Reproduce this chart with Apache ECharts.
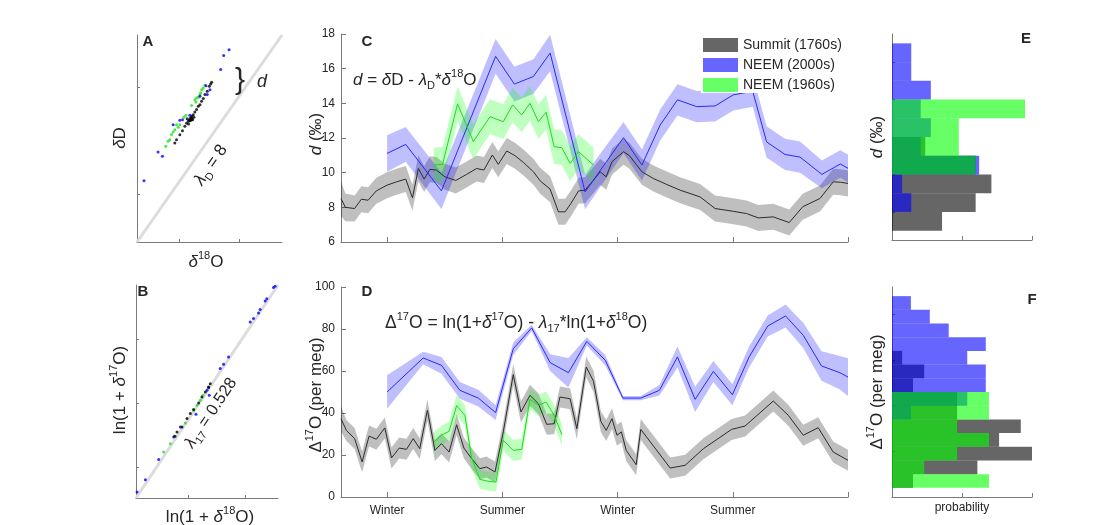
<!DOCTYPE html>
<html><head><meta charset="utf-8">
<script src="https://cdn.jsdelivr.net/npm/echarts@6/dist/echarts.min.js"></script>
<style>html,body{margin:0;padding:0;background:#fff}#c{width:1110px;height:525px}</style>
</head><body><div id="c"></div>
<script>
const FONT = "'Liberation Sans', Arial, Helvetica, sans-serif";
const AX = '#7a7a7a', TXT = '#262626';

// ---------- Panel A (dD vs d18O) ----------
const aLine = [[-47, -344], [-23, -152]];
const aBlue = [[-31.76,-165.6],[-32.65,-170.9],[-33.15,-184.1],[-35.59,-199.0],[-34.92,-202.7],[-35.37,-207.3],[-36.58,-208.9],[-38.25,-226.5],[-39.91,-231.1],[-41.02,-235.2],[-43.51,-260.5],[-42.79,-264.5],[-45.84,-287.1],[-39.47,-230.5]];
const aGreen = [[-42.24,-255.3],[-41.85,-250.6],[-41.57,-249.1],[-41.29,-244.4],[-41.02,-242.0],[-40.74,-239.8],[-40.46,-235.2],[-40.19,-237.6],[-39.91,-235.2],[-39.24,-228.4],[-38.91,-226.5],[-37.97,-217.5],[-37.42,-212.0],[-37.25,-214.1],[-37.14,-210.4],[-36.86,-209.8],[-36.6,-207.5],[-36.47,-205.8],[-36.31,-202.7],[-36.03,-201.2],[-35.75,-198.7]];
const aBlack = [[-40.74,-252.2],[-40.46,-249.1],[-39.91,-244.5],[-39.47,-240.8],[-39.08,-236.7],[-38.80,-233.9],[-38.52,-232.1],[-38.36,-230.5],[-38.14,-229.0],[-37.97,-227.4],[-37.80,-230.5],[-37.69,-225.9],[-37.42,-223.4],[-37.14,-221.2],[-36.86,-218.2],[-36.58,-216.6],[-36.31,-213.5],[-36.03,-211.0],[-35.75,-207.3],[-35.37,-204.2],[-35.03,-199.6],[-34.81,-197.4],[-34.65,-195.9],[-38.69,-229.6],[-38.25,-231.5],[-37.58,-228.4],[-38.47,-234.5],[-38.0,-228.8],[-37.9,-230.0],[-38.1,-231.0]];
const aTicksX = [-40, -30], aTicksY = [-300, -200];

// ---------- Panel B (ln(1+d17O) vs ln(1+d18O)) ----------
const bLine = [[-49.3, -25.9], [-24.2, -12.65]];
const bBlue = [[-49.11,-25.53],[-47.64,-24.76],[-45.29,-23.51],[-42.64,-22.10],[-41.47,-21.48],[-38.70,-20.69],[-36.35,-19.51],[-36.76,-19.20],[-36.47,-19.04],[-34.41,-17.85],[-33.82,-17.58],[-32.94,-17.13],[-29.12,-14.95],[-28.53,-14.74],[-27.65,-14.39],[-27.36,-14.18],[-26.47,-13.64],[-26.18,-13.50],[-25.0,-12.81],[-24.71,-12.73]];
const bGreen = [[-44.41,-23.04],[-43.23,-22.52],[-42.35,-22.06],[-40.58,-21.23],[-39.11,-20.45],[-38.52,-20.13],[-37.93,-19.82],[-37.47,-19.51]];
const bBlack = [[-42.46,-22.06],[-42.05,-21.79],[-41.17,-21.48],[-40.29,-20.96],[-39.70,-20.65],[-39.11,-20.40],[-38.23,-19.99],[-37.64,-19.62],[-37.05,-19.31],[-36.47,-19.00],[-36.17,-18.79]];
const bTicksX = [-40, -30], bTicksY = [-24, -20, -16];

// ---------- Panels C / D : [month, value, half band width] ----------
const monthTicks = [0, 6, 12, 18, 24];
const seasonTicks = [0, 6, 12, 18];
const seasonLabels = ['Winter', 'Summer', 'Winter', 'Summer'];

const summitC = [[-2.4,8.5,1.0],[-2.17,8.0,0.8],[-1.69,7.93,0.75],[-1.34,8.47,0.75],[-0.99,8.41,0.75],[-0.56,8.95,0.75],[0,9.28,0.75],[0.49,9.47,0.75],[0.97,9.63,0.75],[1.32,8.55,0.75],[1.63,10.24,0.75],[1.93,9.63,0.75],[2.23,10.19,0.75],[2.57,10.15,0.75],[3.01,9.76,0.75],[3.58,9.55,0.75],[4.14,9.9,0.75],[4.66,10.24,0.75],[5.04,10.15,0.75],[5.48,11.02,0.75],[5.79,10.48,0.75],[6.23,11.25,0.75],[6.66,10.98,0.75],[7.10,10.59,0.75],[7.62,10.05,0.75],[7.97,9.53,0.75],[8.49,9.05,0.75],[8.92,7.74,0.75],[9.27,7.74,0.75],[9.57,8.22,0.75],[9.97,8.95,0.75],[10.31,8.99,0.75],[10.75,9.57,0.75],[11.1,10.05,0.75],[11.41,9.76,0.75],[11.71,10.63,0.75],[12.31,11.21,0.75],[12.62,10.98,0.75],[13.27,10.05,0.75],[13.87,9.66,0.75],[14.56,9.32,0.75],[15.26,8.99,0.75],[16.30,8.60,0.75],[17.08,7.93,0.75],[18.03,7.77,0.75],[18.72,7.64,0.75],[19.33,7.39,0.75],[20.11,7.45,0.75],[20.94,7.12,0.75],[21.64,8.03,0.75],[22.54,8.51,0.75],[23.23,9.47,0.75],[23.6,9.45,0.75],[24.0,9.38,0.75]];
const neem2000C = [[0,11.11,1.05],[0.97,11.63,1.0],[2.83,8.95,1.05],[5.65,16.71,1.0],[6.63,15.11,1.0],[7.62,15.55,1.0],[8.49,16.9,1.05],[10.31,8.89,1.0],[12.31,12.02,0.9],[13.27,10.44,0.9],[14.22,12.75,0.9],[15.12,14.2,0.9],[16.12,13.81,0.9],[17.08,13.85,0.9],[18.03,14.49,0.9],[19.04,14.7,0.9],[19.76,11.78,0.9],[20.72,11.05,0.9],[21.5,10.9,0.9],[22.64,9.9,0.8],[23.6,10.5,0.8],[24.0,10.25,0.8]];
const neem1960C = [[2.43,10.44,1.0],[2.89,10.48,1.0],[3.67,13.97,1.0],[4.49,11.79,1.0],[5.36,13.23,1.0],[6.05,12.94,1.0],[6.54,13.91,1.0],[7.01,13.33,1.0],[7.44,14.0,1.0],[7.88,12.94,1.0],[8.28,13.49,1.0],[8.70,11.5,1.0],[9.10,11.44,1.0],[9.53,10.53,1.0],[9.97,11.21,1.0],[10.75,10.44,1.0]];

const summitD = [[-2.4,37.3,6],[-2.12,31.7,5],[-1.69,27.8,5],[-1.3,16.7,5],[-0.94,29.0,5],[-0.56,27.5,5],[-0.12,32.9,5],[0.23,18.6,5],[0.63,23.3,5],[1.01,22.7,5],[1.36,27.8,5],[1.70,23.0,5],[2.10,41.3,5],[2.49,22.2,5],[2.83,25.4,5],[3.23,21.4,5],[3.62,34.4,5],[4.0,23.3,5],[4.4,18.3,5],[4.83,13.5,5],[5.18,14.3,5],[5.62,11.9,5],[6.05,31.0,5],[6.57,58.3,5],[6.97,40.5,5],[7.44,48.4,5],[7.88,44.4,5],[8.31,34.6,5],[8.70,34.9,5],[9.0,47.6,5],[9.53,46.8,5],[9.88,32.5,5],[10.37,61.9,5],[10.75,55.1,5],[11.13,36,5],[11.41,31.7,5],[11.71,37.3,5],[11.97,29.4,5],[12.2,31,5],[12.45,22.2,5],[12.97,15.4,5],[13.21,32.2,5],[14.74,13.8,5],[15.52,15.1,5],[16.47,23.0,5],[17.94,32.2,5],[18.64,33.8,5],[20.11,45.7,5],[20.89,38.9,5],[21.67,29.4,5],[22.45,33.0,5],[23.23,21.4,5],[24.0,17.5,5]];
const neem2000D = [[0,50.0,8],[1.88,66.2,3],[2.83,62.7,4],[3.79,50.8,4],[4.75,47.1,4],[5.65,40.2,3.5],[6.57,70.6,3],[7.53,80.5,1.5],[8.49,64.0,4],[9.44,59.2,7],[10.4,74.1,2],[11.36,65.1,2.5],[12.28,47.1,1],[13.21,47.1,1],[14.18,50.8,2.5],[15.12,66.7,5],[16.04,46.5,6],[16.99,59.8,5],[17.98,48.7,5],[18.85,66.7,5],[19.82,81.4,5],[20.75,86.2,5.5],[21.67,77.0,6],[22.62,62.4,7],[23.58,59.2,8],[24.0,57.1,9]];
const neem1960D = [[2.43,26.2,4.8],[2.83,29.4,4.5],[3.23,31.3,4.5],[3.62,43.5,5],[4.05,38.9,5],[4.4,18.6,5],[4.83,8.4,4.5],[5.27,7.5,4.5],[5.67,7.1,4.5],[6.05,27.0,5],[6.57,22.2,5],[7.01,22.7,5],[7.44,46.5,5],[7.88,43.7,5],[8.28,45.2,5],[8.70,38.9,5],[9.10,29.7,5]];

// ---------- Panels E / F histograms : [bin low, bin high, probability] ----------
const probTicks = [0.2, 0.4];
const eTicksY = [8, 10, 12, 14, 16];
const fTicksY = [20, 40, 60, 80];
const eSummit = [[7,8,0.143],[8,9,0.239],[9,10,0.284],[10,11,0.239],[11,12,0.095]];
const eNeem2000 = [[8,9,0.055],[9,10,0.029],[10,11,0.249],[11,12,0.082],[12,13,0.111],[13,14,0.082],[14,15,0.111],[15,16,0.055],[16,17,0.055]];
const eNeem1960 = [[10,11,0.239],[11,12,0.191],[12,13,0.191],[13,14,0.380]];
const fSummit = [[4,10,0.060],[10,16,0.244],[16,22,0.400],[22,28,0.306],[28,34,0.368],[34,40,0.186],[40,46,0.186],[46,52,0.060],[52,58,0.092],[58,64,0.029]];
const fNeem2000 = [[34,40,0.054],[40,46,0.215],[46,52,0.268],[52,58,0.268],[58,64,0.215],[64,70,0.268],[70,76,0.162],[76,82,0.108],[82,88,0.054]];
const fNeem1960 = [[4,10,0.277],[10,16,0.092],[16,22,0.186],[22,28,0.277],[28,34,0.186],[34,40,0.277],[40,46,0.277]];

const legendNames = ['Summit (1760s)', 'NEEM (2000s)', 'NEEM (1960s)'];
const histColors = ['rgba(0,0,0,0.6)', 'rgba(0,0,255,0.6)', 'rgba(0,255,0,0.6)'];
const bandColors = ['rgba(0,0,0,0.25)', 'rgba(0,0,255,0.25)', 'rgba(0,255,0,0.25)'];
const lineColors = ['#2b2b2b', '#2828ff', '#18dd18'];

// ---------- helpers ----------
function mkAxis(grid, min, max, ticks, labelOpt, tickLen, interval) {
  const a = {
    gridIndex: grid, type: 'value', min: min, max: max,
    axisLine: {show: true, onZero: false, lineStyle: {color: AX, width: 1}},
    axisTick: {show: true, inside: true, length: tickLen || 4, lineStyle: {color: AX}},
    axisLabel: {show: false},
    splitLine: {show: false}
  };
  if (interval) a.interval = interval;
  if (ticks) a.axisTick.customValues = ticks;
  if (labelOpt) a.axisLabel = Object.assign({show: true, color: TXT, fontFamily: FONT, fontSize: 12, margin: 6}, labelOpt);
  return a;
}
function band(data, color, idx) {
  return {
    type: 'custom', xAxisIndex: idx, yAxisIndex: idx, silent: true, z: 2,
    data: data, encode: {x: 0, y: 1},
    renderItem: function (params, api) {
      if (params.dataIndex !== 0) return null;
      const up = data.map(p => api.coord([p[0], p[1] + p[2]]));
      const lo = data.map(p => api.coord([p[0], p[1] - p[2]])).reverse();
      return {type: 'polygon', shape: {points: up.concat(lo)}, style: {fill: color}};
    }
  };
}
function line(data, color, idx) {
  return {type: 'line', xAxisIndex: idx, yAxisIndex: idx, data: data.map(p => [p[0], p[1]]),
    symbol: 'none', showSymbol: false, silent: true, z: 3, lineStyle: {width: 1, color: color}};
}
function hist(name, data, color, idx) {
  return {
    type: 'custom', name: name, xAxisIndex: idx, yAxisIndex: idx, silent: true,
    itemStyle: {color: color}, data: data, encode: {x: 2, y: [0, 1]},
    renderItem: function (params, api) {
      const a = api.coord([0, api.value(1)]);
      const b = api.coord([api.value(2), api.value(0)]);
      return {type: 'rect', shape: {x: a[0], y: a[1], width: b[0] - a[0], height: b[1] - a[1]}, style: {fill: color}};
    }
  };
}
function scatter(data, color, idx) {
  return {type: 'scatter', xAxisIndex: idx, yAxisIndex: idx, data: data, symbol: 'circle', symbolSize: 3,
    silent: true, z: 4, itemStyle: {color: color}};
}
function rich(fs) {
  const s = Math.round(fs * 0.64);
  return {
    n: {fontSize: fs, fontFamily: FONT, fill: TXT, color: TXT, lineHeight: fs + 6, verticalAlign: 'middle'},
    i: {fontSize: fs, fontFamily: FONT, fontStyle: 'italic', fill: TXT, color: TXT, lineHeight: fs + 6, verticalAlign: 'middle'},
    sup: {fontSize: s, fontFamily: FONT, fill: TXT, color: TXT, lineHeight: s + 1, verticalAlign: 'top'},
    sub: {fontSize: s, fontFamily: FONT, fill: TXT, color: TXT, lineHeight: s + 1, verticalAlign: 'bottom'}
  };
}
function txt(x, y, text, fs, rot, align, bold) {
  return {type: 'text', x: x, y: y, rotation: rot || 0, silent: true, z: 10,
    style: {text: text, rich: rich(fs), fontSize: fs, fontFamily: FONT, fontWeight: bold ? 'bold' : 'normal',
      fill: TXT, align: align || 'center', textAlign: align || 'center', verticalAlign: 'middle', textVerticalAlign: 'middle'}};
}
const R90 = Math.PI / 2;

const option = {
  animation: false,
  backgroundColor: '#fff',
  grid: [
    {left: 137, top: 35, width: 145, height: 207},
    {left: 136, top: 285, width: 142, height: 213},
    {left: 341, top: 34, width: 507, height: 208},
    {left: 341, top: 287, width: 507, height: 210},
    {left: 892, top: 34, width: 140, height: 206},
    {left: 892, top: 287, width: 140, height: 210}
  ],
  xAxis: [
    mkAxis(0, -47, -23, aTicksX, null, 3),
    mkAxis(1, -49.3, -24.2, bTicksX, null, 3),
    mkAxis(2, -2.4, 24, monthTicks, null, 5),
    mkAxis(3, -2.4, 24, monthTicks, {customValues: seasonTicks, margin: 8,
      formatter: v => seasonLabels[seasonTicks.indexOf(v)]}, 5),
    mkAxis(4, 0, 0.4, probTicks, null, 4),
    mkAxis(5, 0, 0.4, probTicks, null, 4)
  ],
  yAxis: [
    mkAxis(0, -344, -152, aTicksY, null, 3),
    mkAxis(1, -25.9, -12.65, bTicksY, null, 3),
    mkAxis(2, 6, 18, null, {}, 5, 2),
    mkAxis(3, 0, 100, null, {}, 5, 20),
    mkAxis(4, 6.5, 17.5, eTicksY, null, 3),
    mkAxis(5, 0, 92, fTicksY, null, 3)
  ],
  legend: {
    left: 701, top: 37, orient: 'vertical', icon: 'rect', itemWidth: 35, itemHeight: 14, itemGap: 6,
    padding: [1, 3, 1, 2], backgroundColor: '#fff', selectedMode: false, z: 20,
    textStyle: {fontFamily: FONT, fontSize: 14, color: TXT, lineHeight: 14},
    data: legendNames
  },
  series: [
    // A
    {type: 'line', xAxisIndex: 0, yAxisIndex: 0, data: aLine, symbol: 'none', silent: true, z: 2, lineStyle: {color: '#dcdcdc', width: 3}},
    scatter(aGreen, '#22e022', 0), scatter(aBlack, '#000000', 0), scatter(aBlue, '#0000ff', 0),
    // B
    {type: 'line', xAxisIndex: 1, yAxisIndex: 1, data: bLine, symbol: 'none', silent: true, z: 2, lineStyle: {color: '#dcdcdc', width: 3}},
    scatter(bBlue, '#0000ff', 1), scatter(bGreen, '#22e022', 1), scatter(bBlack, '#000000', 1),
    // C
    band(summitC, bandColors[0], 2), band(neem2000C, bandColors[1], 2), band(neem1960C, bandColors[2], 2),
    line(summitC, lineColors[0], 2), line(neem2000C, lineColors[1], 2), line(neem1960C, lineColors[2], 2),
    // D
    band(summitD, bandColors[0], 3), band(neem2000D, bandColors[1], 3), band(neem1960D, bandColors[2], 3),
    line(summitD, lineColors[0], 3), line(neem2000D, lineColors[1], 3), line(neem1960D, lineColors[2], 3),
    // E
    hist(legendNames[0], eSummit, histColors[0], 4), hist(legendNames[1], eNeem2000, histColors[1], 4), hist(legendNames[2], eNeem1960, histColors[2], 4),
    // F
    hist(legendNames[0], fSummit, histColors[0], 5), hist(legendNames[1], fNeem2000, histColors[1], 5), hist(legendNames[2], fNeem1960, histColors[2], 5)
  ],
  graphic: {elements: [
    txt(148, 42, 'A', 15, 0, 'center', true),
    txt(143, 292, 'B', 15, 0, 'center', true),
    txt(367, 42, 'C', 15, 0, 'center', true),
    txt(367, 292, 'D', 15, 0, 'center', true),
    txt(1026, 39, 'E', 15, 0, 'center', true),
    txt(1032, 300, 'F', 15, 0, 'center', true),
    txt(120, 138, '{i|δ}{n|D}', 17, R90),
    txt(206, 262, '{i|δ}{sup|18}{n|O}', 17),
    txt(120, 390, '{n|ln(1 + }{i|δ}{sup|17}{n|O)}', 17, R90),
    txt(210, 517, '{n|ln(1 + }{i|δ}{sup|18}{n|O)}', 17),
    txt(316, 134, '{i|d}{n| (‰)}', 17, R90),
    txt(316, 395, '{n|Δ}{sup|17}{n|O (per meg)}', 17, R90),
    txt(877, 137, '{i|d}{n| (‰)}', 17, R90),
    txt(877, 392, '{n|Δ}{sup|17}{n|O (per meg)}', 17, R90),
    txt(962, 508, '{n|probability}', 12),
    txt(353, 80, '{i|d}{n| = }{i|δ}{n|D - }{i|λ}{sub|D}{n|*}{i|δ}{sup|18}{n|O}', 17, 0, 'left'),
    txt(385, 323, '{n|Δ}{sup|17}{n|O = ln(1+}{i|δ}{sup|17}{n|O) - }{i|λ}{sub|17}{n|*ln(1+}{i|δ}{sup|18}{n|O)}', 17.5, 0, 'left'),
    txt(211, 165, '{i|λ}{sub|D}{n| = 8}', 17, 0.963),
    txt(211, 413, '{i|λ}{sub|17}{n| = 0.528}', 16.5, 0.983),
    txt(240, 81, '{n|}}', 30),
    txt(262, 82, '{i|d}', 18)
  ]}
};
const chart = echarts.init(document.getElementById('c'), null, {renderer: 'canvas'});
chart.setOption(option);
</script></body></html>
